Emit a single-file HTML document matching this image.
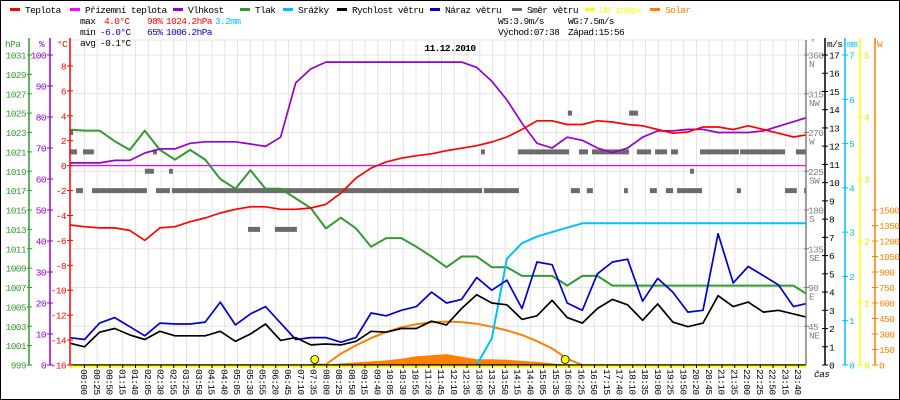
<!DOCTYPE html>
<html><head><meta charset="utf-8"><title>Meteo 11.12.2010</title>
<style>
html,body{margin:0;padding:0;background:#fff;}
svg{display:block;}
text{font-family:"Liberation Mono","DejaVu Sans Mono",monospace;font-size:9.5px;letter-spacing:-0.6px;}
</style></head>
<body>
<svg id="chart" width="900" height="400" viewBox="0 0 900 400" xmlns="http://www.w3.org/2000/svg">
<rect x="0.5" y="0.5" width="899" height="399" fill="#fff" stroke="#000"/>
<defs><clipPath id="plotclip"><rect x="70" y="38" width="736" height="330"/></clipPath></defs>
<g id="grid"></g>
<g id="series" clip-path="url(#plotclip)"></g>
<g id="axes"></g>
<g id="legend"></g>
</svg>
<script>
const hours = [-0.5,0,0.5,1,1.5,2,2.5,3,3.5,4,4.5,5,5.5,6,6.5,7,7.5,8,8.5,9,9.5,10,10.5,11,11.5,12,12.5,13,13.5,14,14.5,15,15.5,16,16.5,17,17.5,18,18.5,19,19.5,20,20.5,21,21.5,22,22.5,23,23.5,24];
const temperature = [-4.76,-4.9,-5.0,-5.0,-5.2,-6.0,-5.0,-4.9,-4.5,-4.2,-3.8,-3.5,-3.3,-3.3,-3.5,-3.5,-3.4,-3.1,-2.2,-1.0,-0.2,0.3,0.6,0.8,0.95,1.2,1.4,1.6,1.9,2.3,2.9,3.6,3.6,3.3,3.3,3.6,3.5,3.3,3.2,2.9,2.6,2.7,3.1,3.1,2.9,3.2,2.9,2.6,2.3,2.5];
const groundTemp = [0,0,0,0,0,0,0,0,0,0,0,0,0,0,0,0,0,0,0,0,0,0,0,0,0,0,0,0,0,0,0,0,0,0,0,0,0,0,0,0,0,0,0,0,0,0,0,0,0,0];
const humidity = [65.2,65.2,65.2,66,66,68.4,69.7,69.7,71.5,72,72,72,71.3,70.5,73.5,91,95.5,97.7,97.7,97.7,97.7,97.7,97.7,97.7,97.7,97.7,97.7,96,91.5,85.5,78,71.5,70,73.5,72.5,70,68.5,70,73.5,75.5,75.5,76,76,75,75,75,75.5,77,78.5,80];
const pressure = [1023.3,1023.2,1023.2,1022.1,1021.2,1023.2,1021.2,1020.2,1021.2,1020.2,1018.2,1017.2,1019.1,1017.2,1017.2,1016.2,1015.2,1013.1,1014.2,1013.1,1011.2,1012.1,1012.1,1011.2,1010.2,1009.1,1010.2,1010.2,1009.1,1009.1,1008.2,1008.2,1008.2,1007.2,1008.2,1008.2,1007.2,1007.2,1007.2,1007.2,1007.2,1007.2,1007.2,1007.2,1007.2,1007.2,1007.2,1007.2,1007.2,1006.2];
const rain = [0,0,0,0,0,0,0,0,0,0,0,0,0,0,0,0,0,0,0,0,0,0,0,0,0,0,0,0,0.6,2.4,2.75,2.9,3.0,3.1,3.2,3.2,3.2,3.2,3.2,3.2,3.2,3.2,3.2,3.2,3.2,3.2,3.2,3.2,3.2,3.2];
const windSpeed = [1.2,1.0,1.8,2.0,1.65,1.4,1.85,1.6,1.6,1.6,1.85,1.3,1.7,2.25,1.35,1.5,1.1,1.15,1.1,1.3,1.85,1.8,2.0,2.0,2.4,2.2,3.1,3.85,3.4,3.3,2.5,2.7,3.55,2.6,2.3,3.1,3.6,3.3,2.45,3.35,2.35,2.1,2.3,3.8,3.2,3.45,2.9,3.0,2.8,2.6];
const windGust = [1.5,1.4,2.3,2.6,2.1,1.6,2.3,2.25,2.25,2.35,3.45,2.2,2.8,3.2,2.3,1.4,1.5,1.5,1.25,1.5,2.85,2.7,3.0,3.2,4.0,3.4,3.6,4.8,4.1,4.65,3.1,5.65,5.5,3.4,3.0,5.0,5.65,5.8,3.5,4.75,4.0,2.9,3.0,7.2,4.5,5.4,4.9,4.4,3.2,3.4];
const solarMax = [0,0,0,0,0,0,0,0,0,0,0,0,0,0,0,0,0,5,110,190,260,320,365,395,415,420,415,400,370,335,290,230,160,60,0,0,0,0,0,0,0,0,0,0,0,0,0,0,0,0];
const solar = [0,0,0,0,0,0,0,0,0,0,0,0,0,0,0,0,0,0,15,25,35,45,60,85,95,105,80,55,55,50,40,30,15,0,0,0,0,0,0,0,0,0,0,0,0,0,0,0,0,0];
const uvIndex = [0,0,0,0,0,0,0,0,0,0,0,0,0,0,0,0,0,0,0,0,0,0,0,0,0,0,0,0,0,0,0,0,0,0,0,0,0,0,0,0,0,0,0,0,0,0,0,0,0,0];
const dirStart = [-0.48,-0.48,-0.05,-0.28,0.25,2.37,2.9,13.24,2.0,2.8,2.27,5.42,6.31,13.14,14.37,16.39,16.82,18.31,18.91,19.44,20.4,21.73,23.58,16.02,18.05,20.07,16.12,16.65,17.88,18.74,19.27,19.64,21.62,23.22,23.85];
const dirEnd   = [-0.4,-0.25,0.31,-0.05,2.07,2.83,13.18,14.4,2.3,2.93,2.4,5.82,7.04,13.27,16.06,16.69,18.05,18.78,19.31,19.67,21.69,23.22,23.91,16.16,18.35,20.2,16.42,16.85,18.01,18.97,19.51,20.47,21.76,23.61,23.91];
const dirValue = [270,247.5,247.5,202.5,202.5,202.5,202.5,202.5,225,225,247.5,157.5,157.5,247.5,247.5,247.5,247.5,247.5,247.5,247.5,247.5,247.5,247.5,292.5,292.5,225,202.5,202.5,202.5,202.5,202.5,202.5,202.5,202.5,202.5];
const sunEvents = [7.633,15.933];
const timeLabels = ["00:00","00:25","00:50","01:15","01:40","02:05","02:30","02:55","03:25","03:50","04:15","04:40","05:05","05:30","05:55","06:20","06:45","07:10","07:35","08:00","08:25","08:50","09:15","09:40","10:05","10:30","10:55","11:20","11:45","12:10","12:35","13:00","13:25","13:50","14:15","14:40","15:05","15:35","16:00","16:25","16:50","17:15","17:40","18:10","18:35","19:00","19:25","19:50","20:20","20:45","21:10","21:35","22:00","22:25","22:50","23:15","23:40"];
const hpaTicks = [1031,1029,1027,1025,1023,1021,1019,1017,1015,1013,1011,1009,1007,1005,1003,1001,999];
const pctTicks = [100,90,80,70,60,50,40,30,20,10,0];
const tempTicks = [8,6,4,2,0,-2,-4,-6,-8,-10,-12,-14,-16];
const dirTicks = [360,315,270,225,180,135,90,45];
const dirNames = ["N","NW","W","SW","S","SE","E","NE"];
const msTicks = [17,16,15,14,13,12,11,10,9,8,7,6,5,4,3,2,1,0];
const mmTicks = [7,6,5,4,3,2,1,0];
const uvTicks = [5,4,3,2,1,0];
const wTicks = [1500,1350,1200,1050,900,750,600,450,300,150,0];

const NS='http://www.w3.org/2000/svg';
const TOP=55, BOT=365;
const xT = h => 84.5 + h*30.17;
const yTemp = t => BOT - (t+16)*12.46;
const yPct = p => BOT - p*3.1;
const yHpa = p => BOT - (p-999)*(310/32);
const yMs = v => BOT - v*(310/17);
const yMm = v => BOT - v*(310/7);
const yUv = v => BOT - v*(310/5);
const yW = v => BOT - v*(155/1500);
const yDir = d => BOT - d*(310/360);

function mk(tag, attrs, parent){const e=document.createElementNS(NS,tag);for(const k in attrs)e.setAttribute(k,attrs[k]);parent.appendChild(e);return e;}
function txt(s, attrs, parent){const e=mk('text',attrs,parent);e.textContent=s;return e;}

const grid=document.getElementById('grid');
const series=document.getElementById('series');
const axes=document.getElementById('axes');
const legend=document.getElementById('legend');

for(let i=0;i<timeLabels.length;i++){
  const x=84.5+i*12.75;
  const l=mk('line',{x1:x,x2:x,y1:40,y2:BOT,stroke:'#e4e4e4','stroke-width':1},grid);
  
  
}
const hl=[40];for(let k=0;k<8;k++)hl.push(TOP+38.75*k);
hl.forEach(y=>{const l=mk('line',{x1:70,x2:806,y1:y,y2:y,stroke:'#e4e4e4','stroke-width':1},grid);
  
  });

for(let i=0;i<dirValue.length;i++){
  const x1=xT(dirStart[i]),x2=xT(dirEnd[i]);
  const r=mk('rect',{x:x1,y:yDir(dirValue[i])-2.5,width:Math.max(3,x2-x1),height:5,fill:'#6b6b6b'},series);
  
  
}
function pts(arr, yf, from, to){const p=[];for(let i=from;i<=to;i++)p.push(xT(hours[i]).toFixed(1)+','+yf(arr[i]).toFixed(1));return p.join(' ');}
function line(arr,yf,color,w,from,to){
  return mk('polyline',{points:pts(arr,yf,from===undefined?0:from,to===undefined?arr.length-1:to),fill:'none',stroke:color,'stroke-width':w,'stroke-linejoin':'round'},series);
}
{const p=['' + xT(hours[0]) + ',' + BOT];for(let i=0;i<solar.length;i++)p.push(xT(hours[i]).toFixed(1)+','+yW(solar[i]).toFixed(1));p.push(xT(hours[hours.length-1])+','+BOT);
 const e=mk('polygon',{points:p.join(' '),fill:'#ff8000'},series);
 
 }
{const e=line(solarMax,yW,'#ff8000',2,16,34);
 
 }
{const e=line(pressure,yHpa,'#339933',2);
 
 }
{const e=line(humidity,yPct,'#9400d3',1.7);
 
 }
{const e=line(groundTemp,yTemp,'#ff00ff',1.2);
 
 }
{const e=line(temperature,yTemp,'#ff0000',1.7);
 
 }
{const e=line(rain,yMm,'#00bfff',2,27,49);
 
 }
{const e=line(windGust,yMs,'#0000cd',1.7);
 
 }
{const e=line(windSpeed,yMs,'#000000',1.7);
 
 }
{const e=mk('line',{x1:70,x2:806,y1:BOT,y2:BOT,stroke:'#000','stroke-width':1.5},series);
 
 }
{const e=line(uvIndex,v=>yUv(v)+1.5,'#ffff00',2);
 
 }
sunEvents.forEach(h=>{const c=mk('circle',{cx:xT(h),cy:359.5,r:4,fill:'#ffff00',stroke:'#000','stroke-width':0.8},series);
 
 });

function vaxis(x,color,y1){return mk('line',{x1:x,x2:x,y1:y1,y2:BOT,stroke:color,'stroke-width':1.5},axes);}
{const e=vaxis(29,'#339933',38);}
{const e=vaxis(50,'#9400d3',38);}
{const e=vaxis(70,'#ff0000',38);}
hpaTicks.forEach(v=>{const y=yHpa(v);mk('line',{x1:27,x2:32,y1:y,y2:y,stroke:'#339933'},axes);
 const t=txt(String(v),{x:26,y:y+3.5,fill:'#339933','text-anchor':'end'},axes);
 });
pctTicks.forEach(v=>{const y=yPct(v);mk('line',{x1:47,x2:53,y1:y,y2:y,stroke:'#9400d3'},axes);
 const t=txt(String(v),{x:46,y:y+3.5,fill:'#9400d3','text-anchor':'end'},axes);
 });
tempTicks.forEach(v=>{const y=yTemp(v);mk('line',{x1:67,x2:73,y1:y,y2:y,stroke:'#ff0000'},axes);
 const t=txt(String(v),{x:66,y:y+3.5,fill:'#ff0000','text-anchor':'end'},axes);
 });
{const t=txt('hPa',{x:5,y:47,fill:'#339933'},axes);}
{const t=txt('%',{x:39,y:47,fill:'#9400d3'},axes);}
{const t=txt('°C',{x:57,y:47,fill:'#ff0000'},axes);}

{const e=vaxis(806,'#808080',40);}
{const e=vaxis(825,'#000000',38);}
{const e=vaxis(845,'#00bfff',38);}
{const e=vaxis(860,'#ffff00',38);}
{const e=vaxis(875,'#ff8000',38);}
dirTicks.forEach((v,i)=>{const y=yDir(v);mk('line',{x1:804,x2:809,y1:y,y2:y,stroke:'#808080'},axes);
 const t=txt(String(v),{x:808,y:y+3.5,fill:'#808080'},axes);
 
 const n=txt(dirNames[i],{x:809,y:y+12,fill:'#808080'},axes);
 });
msTicks.forEach(v=>{const y=yMs(v);mk('line',{x1:822,x2:828,y1:y,y2:y,stroke:'#000'},axes);
 const t=txt(String(v),{x:829,y:y+3.5,fill:'#000'},axes);
 });
mmTicks.forEach(v=>{const y=yMm(v);mk('line',{x1:842,x2:848,y1:y,y2:y,stroke:'#00bfff'},axes);
 const t=txt(String(v),{x:849,y:y+3.5,fill:'#00bfff'},axes);
 });
uvTicks.forEach(v=>{const y=yUv(v);mk('line',{x1:857,x2:863,y1:y,y2:y,stroke:'#ffff00'},axes);
 const t=txt(String(v),{x:864,y:y+3.5,fill:'#e6e600'},axes);
 });
wTicks.forEach(v=>{const y=yW(v);mk('line',{x1:872,x2:878,y1:y,y2:y,stroke:'#ff8000'},axes);
 const t=txt(String(v),{x:879,y:y+3.5,fill:'#ff8000'},axes);
 });
{const t=txt('°',{x:810,y:45,fill:'#808080'},axes);}
{const t=txt('m/s',{x:827,y:47,fill:'#000'},axes);}
{const t=txt('mm',{x:847,y:47,fill:'#00bfff'},axes);}
{const t=txt('W',{x:877,y:47,fill:'#ff8000'},axes);}

timeLabels.forEach((s,i)=>{const x=84.5+i*12.75;
 mk('line',{x1:x,x2:x,y1:BOT,y2:BOT+3,stroke:'#000'},axes);
 const t=txt(s,{x:0,y:0,transform:'translate('+(x-3.5)+',369) rotate(90)',fill:'#000'},axes);
 });
{const t=txt('čas',{x:814,y:377,fill:'#000','font-style':'italic'},axes);}

const legendNames=['Teplota','Přízemní teplota','Vlhkost','Tlak','Srážky','Rychlost větru','Náraz větru','Směr větru','UV index','Solar'];
const legendColors=['#ff0000','#ff00ff','#9400d3','#339933','#00bfff','#000000','#0000cd','#6b6b6b','#ffff00','#ff8000'];
const legendX=[10,70,173,240,283,337,430,512,585,650];
legendNames.forEach((n,i)=>{
 const g=mk('g',{},legend);
 
 
 mk('rect',{x:legendX[i],y:8,width:10,height:3,fill:legendColors[i]},g);
 txt(n,{x:legendX[i]+15,y:13,fill:(i===8||i===9)?legendColors[i]:'#000'},g);
});
const S=[['max',80,24,'#000'],['4.0°C',104,24,'#ff0000'],['98%',147,24,'#ff0000'],['1024.2hPa',166,24,'#ff0000'],['3.2mm',215,24,'#00bfff'],
['min',80,35,'#000'],['-6.0°C',100,35,'#0000cd'],['65%',147,35,'#0000cd'],['1006.2hPa',166,35,'#0000cd'],
['avg',80,46,'#000'],['-0.1°C',100,46,'#000'],
['WS:3.9m/s',498,24,'#000'],['WG:7.5m/s',568,24,'#000'],['Východ:07:38',498,35,'#000'],['Západ:15:56',568,35,'#000']];
S.forEach(s=>{const t=txt(s[0],{x:s[1],y:s[2],fill:s[3]},legend);
 });
{const t=txt('11.12.2010',{x:450,y:51,'text-anchor':'middle','font-weight':'bold','font-size':'13px','letter-spacing':'0px',fill:'#000'},legend);
 }
</script>
</body></html>
